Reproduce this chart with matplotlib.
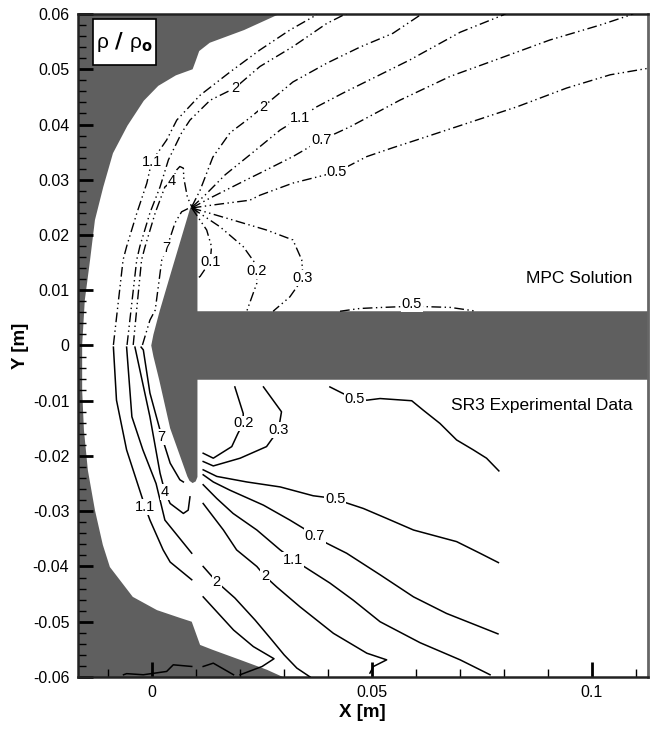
import matplotlib
matplotlib.use("Agg")
import matplotlib.pyplot as plt
from matplotlib.patches import Polygon, Rectangle
from matplotlib.ticker import MultipleLocator, FixedLocator

plt.rcParams['font.family'] = ['Liberation Sans', 'DejaVu Sans']

GRAY = '#5f5f5f'

# ---------------- geometry (m) ----------------
# outer boundary of the flow field (left of the bow shock is masked)
shock_x = [0.0290, 0.0210, 0.0132, 0.0108, 0.0100, 0.0093, 0.0055, 0.0015, -0.0018,
           -0.0055, -0.0088, -0.0110, -0.0129, -0.0140, -0.0152, -0.0158, -0.0158,
           -0.0154, -0.0145, -0.0129, -0.0111, -0.0095, -0.0043, 0.0012, 0.0064,
           0.0091, 0.0110, 0.0139, 0.0201, 0.0262, 0.0298]
shock_y = [0.0600, 0.0571, 0.0548, 0.0533, 0.0515, 0.0500, 0.0489, 0.0470, 0.0443,
           0.0398, 0.0348, 0.0287, 0.0227, 0.0155, 0.0082, 0.0001, -0.0081,
           -0.0153, -0.0226, -0.0298, -0.0361, -0.0401, -0.0455, -0.0479, -0.0493,
           -0.0500, -0.0542, -0.0551, -0.0569, -0.0587, -0.0600]

# blunted cone with sting
body_x = [0.0088, 0.0095, 0.0104, 0.0104, 0.1200, 0.1200, 0.0104, 0.0104, 0.0100,
          0.0093, 0.0086, 0.0081, 0.0042, 0.0017, 0.0004, -0.0001, 0.0004, 0.0018, 0.0045]
body_y = [0.0250, 0.0251, 0.0246, 0.0062, 0.0062, -0.0062, -0.0062, -0.0238, -0.0246,
          -0.0249, -0.0245, -0.0237, -0.0150, -0.0062, -0.0020, 0.0000, 0.0020, 0.0062, 0.0135]

# ---------------- MPC solution contours (upper half) ----------------
mpc_11a = [(-0.0087, 0.0001), (-0.0065, 0.0155), (-0.0057, 0.0179), (-0.0034, 0.0239),
           (-0.0011, 0.0294), (0.0000, 0.0333), (0.0034, 0.0372), (0.0057, 0.0408),
           (0.0110, 0.0453), (0.0178, 0.0495), (0.0246, 0.0535), (0.0314, 0.0571),
           (0.0367, 0.0595), (0.0375, 0.0601)]
mpc_2a = [(-0.0056, 0.0001), (-0.0034, 0.0155), (-0.0027, 0.0179), (-0.0004, 0.0240),
          (0.0019, 0.0287), (0.0038, 0.0336), (0.0068, 0.0385), (0.0087, 0.0408),
          (0.0133, 0.0444), (0.0189, 0.0466), (0.0246, 0.0505), (0.0321, 0.0541),
          (0.0398, 0.0583), (0.0443, 0.0601)]
mpc_4 = [(-0.0042, 0.0001), (-0.0023, 0.0155), (-0.0015, 0.0179), (0.0008, 0.0240),
         (0.0030, 0.0287), (0.0046, 0.0297), (0.0057, 0.0318), (0.0064, 0.0324),
         (0.0072, 0.0321), (0.0073, 0.0303), (0.0081, 0.0269), (0.0091, 0.0251)]
mpc_7 = [(-0.0021, 0.0001), (-0.0004, 0.0046), (0.0008, 0.0064), (0.0023, 0.0155),
         (0.0034, 0.0176), (0.0053, 0.0222), (0.0068, 0.0242), (0.0083, 0.0248),
         (0.0090, 0.0250)]
mpc_2b = [(0.0091, 0.0251), (0.0110, 0.0281), (0.0139, 0.0341), (0.0178, 0.0385),
          (0.0223, 0.0412), (0.0253, 0.0432), (0.0321, 0.0477), (0.0398, 0.0511),
          (0.0473, 0.0540), (0.0548, 0.0565), (0.0610, 0.0598), (0.0614, 0.0601)]
mpc_11b = [(0.0091, 0.0250), (0.0121, 0.0272), (0.0167, 0.0309), (0.0223, 0.0345),
           (0.0292, 0.0390), (0.0337, 0.0412), (0.0375, 0.0432), (0.0435, 0.0457),
           (0.0511, 0.0487), (0.0587, 0.0517), (0.0701, 0.0567), (0.0798, 0.0598),
           (0.0805, 0.0601)]
mpc_07 = [(0.0091, 0.0249), (0.0133, 0.0267), (0.0223, 0.0303), (0.0246, 0.0312),
          (0.0321, 0.0342), (0.0386, 0.0372), (0.0451, 0.0396), (0.0564, 0.0444),
          (0.0678, 0.0487), (0.0792, 0.0520), (0.0905, 0.0553), (0.1019, 0.0580),
          (0.1087, 0.0598), (0.1095, 0.0601)]
mpc_05 = [(0.0091, 0.0249), (0.0155, 0.0256), (0.0223, 0.0263), (0.0246, 0.0272),
          (0.0321, 0.0294), (0.0421, 0.0314), (0.0489, 0.0342), (0.0548, 0.0358),
          (0.0602, 0.0372), (0.0716, 0.0402), (0.0830, 0.0432), (0.0943, 0.0466),
          (0.1042, 0.0490), (0.1130, 0.0502)]
mpc_01 = [(0.0091, 0.0249), (0.0125, 0.0209), (0.0136, 0.0179), (0.0133, 0.0152),
          (0.0110, 0.0125), (0.0105, 0.0122)]
mpc_02 = [(0.0091, 0.0249), (0.0155, 0.0215), (0.0208, 0.0179), (0.0235, 0.0149),
          (0.0239, 0.0134), (0.0239, 0.0113), (0.0216, 0.0062)]
mpc_03 = [(0.0091, 0.0249), (0.0185, 0.0227), (0.0261, 0.0209), (0.0321, 0.0191),
          (0.0341, 0.0155), (0.0344, 0.0122), (0.0314, 0.0088), (0.0276, 0.0062)]
mpc_05s = [(0.0428, 0.0062), (0.0473, 0.0067), (0.0526, 0.0069), (0.0591, 0.0071),
           (0.0678, 0.0069), (0.0739, 0.0062)]

mpc_lines = [mpc_11a, mpc_2a, mpc_4, mpc_7, mpc_2b, mpc_11b, mpc_07, mpc_05,
             mpc_01, mpc_02, mpc_03, mpc_05s]
mpc_labels = [("1.1", 0.0000, 0.0333), ("2", 0.0189, 0.0466), ("4", 0.0046, 0.0297),
              ("7", 0.0034, 0.0176), ("2", 0.0253, 0.0432), ("1.1", 0.0337, 0.0412),
              ("0.7", 0.0386, 0.0372), ("0.5", 0.0421, 0.0314), ("0.1", 0.0133, 0.0152),
              ("0.2", 0.0239, 0.0134), ("0.3", 0.0344, 0.0122), ("0.5", 0.0591, 0.0075)]

# ---------------- SR3 experimental contours (lower half) ----------------
sr3_11a = [(-0.0087, -0.0003), (-0.0080, -0.0099), (-0.0057, -0.0189), (-0.0015, -0.0292),
           (-0.0004, -0.0316), (0.0026, -0.0370), (0.0042, -0.0392), (0.0091, -0.0424)]
sr3_11a2 = [(0.0117, -0.0455), (0.0186, -0.0515), (0.0231, -0.0545), (0.0278, -0.0567),
            (0.0251, -0.0581), (0.0201, -0.0596)]
sr3_2a = [(-0.0057, -0.0003), (-0.0045, -0.0129), (-0.0020, -0.0189), (0.0010, -0.0250),
          (0.0030, -0.0316), (0.0091, -0.0376)]
sr3_2a2 = [(0.0117, -0.0400), (0.0148, -0.0428), (0.0189, -0.0457), (0.0235, -0.0497),
           (0.0273, -0.0533), (0.0301, -0.0560), (0.0330, -0.0584), (0.0360, -0.0600)]
sr3_4 = [(-0.0038, -0.0003), (-0.0004, -0.0129), (0.0019, -0.0231), (0.0030, -0.0265),
         (0.0042, -0.0286), (0.0072, -0.0304), (0.0083, -0.0298), (0.0087, -0.0274)]
sr3_7 = [(-0.0024, -0.0003), (-0.0019, -0.0008), (-0.0004, -0.0086), (0.0023, -0.0165),
         (0.0042, -0.0213), (0.0064, -0.0243), (0.0072, -0.0247)]
sr3_02 = [(0.0189, -0.0075), (0.0208, -0.0123), (0.0208, -0.0141), (0.0196, -0.0159),
          (0.0182, -0.0183), (0.0140, -0.0204), (0.0117, -0.0195)]
sr3_03 = [(0.0254, -0.0075), (0.0295, -0.0120), (0.0288, -0.0153), (0.0261, -0.0183),
          (0.0201, -0.0204), (0.0140, -0.0218), (0.0117, -0.0210)]
sr3_05 = [(0.0117, -0.0225), (0.0148, -0.0237), (0.0216, -0.0247), (0.0292, -0.0256),
          (0.0367, -0.0272), (0.0417, -0.0277), (0.0443, -0.0285), (0.0481, -0.0295),
          (0.0534, -0.0313), (0.0595, -0.0334), (0.0693, -0.0355), (0.0746, -0.0376),
          (0.0788, -0.0393)]
sr3_07 = [(0.0117, -0.0234), (0.0140, -0.0247), (0.0178, -0.0262), (0.0254, -0.0289),
          (0.0314, -0.0316), (0.0345, -0.0331), (0.0371, -0.0345), (0.0398, -0.0358),
          (0.0443, -0.0376), (0.0519, -0.0415), (0.0595, -0.0455), (0.0670, -0.0485),
          (0.0746, -0.0509), (0.0787, -0.0522)]
sr3_11b = [(0.0117, -0.0252), (0.0148, -0.0277), (0.0185, -0.0304), (0.0239, -0.0334),
           (0.0292, -0.0370), (0.0322, -0.0388), (0.0352, -0.0403), (0.0405, -0.0430),
           (0.0458, -0.0461), (0.0519, -0.0500), (0.0610, -0.0538), (0.0701, -0.0569),
           (0.0769, -0.0596)]
sr3_2b = [(0.0117, -0.0286), (0.0140, -0.0310), (0.0163, -0.0334), (0.0193, -0.0370),
          (0.0239, -0.0400), (0.0258, -0.0418), (0.0284, -0.0437), (0.0337, -0.0473),
          (0.0413, -0.0521), (0.0489, -0.0557), (0.0534, -0.0569), (0.0504, -0.0581),
          (0.0496, -0.0593)]
sr3_05s = [(0.0405, -0.0075), (0.0435, -0.0087), (0.0462, -0.0096), (0.0489, -0.0099),
           (0.0519, -0.0096), (0.0591, -0.0100), (0.0617, -0.0117), (0.0655, -0.0141),
           (0.0693, -0.0171), (0.0731, -0.0189), (0.0761, -0.0204), (0.0789, -0.0227)]
sr3_edge1 = [(-0.0064, -0.0596), (-0.0057, -0.0594), (-0.0019, -0.0596), (0.0034, -0.0590),
             (0.0049, -0.0578), (0.0091, -0.0581)]
sr3_edge2 = [(0.0117, -0.0581), (0.0140, -0.0575), (0.0186, -0.0596)]

sr3_lines = [sr3_11a, sr3_11a2, sr3_2a, sr3_2a2, sr3_4, sr3_7, sr3_02, sr3_03, sr3_05,
             sr3_07, sr3_11b, sr3_2b, sr3_05s, sr3_edge1, sr3_edge2]
sr3_labels = [("1.1", -0.0015, -0.0292), ("2", 0.0148, -0.0428), ("4", 0.0030, -0.0265),
              ("7", 0.0023, -0.0165), ("0.2", 0.0208, -0.0141), ("0.3", 0.0288, -0.0153),
              ("0.5", 0.0417, -0.0277), ("0.7", 0.0371, -0.0345), ("1.1", 0.0322, -0.0388),
              ("2", 0.0258, -0.0418), ("0.5", 0.0462, -0.0096)]

# ---------------- figure ----------------
fig = plt.figure(figsize=(6.5, 7.34), dpi=100)
ax = fig.add_axes([0.1195, 0.0777, 0.877, 0.9032])

xl = (-0.01682, 0.11273)
ax.set_xlim(*xl)
ax.set_ylim(-0.06, 0.06)

# masked regions
free = list(zip(shock_x, shock_y)) + [(-0.05, -0.07), (-0.05, 0.07), (0.0290, 0.07)]
ax.add_patch(Polygon(free, closed=True, facecolor=GRAY, edgecolor='none', zorder=1))
ax.add_patch(Polygon(list(zip(body_x, body_y)), closed=True, facecolor=GRAY,
                     edgecolor='none', zorder=1))

dashdotdot = (0, (7, 2.5, 1, 2.5, 1, 2.5))
for pts in mpc_lines:
    xs, ys = zip(*pts)
    ax.plot(xs, ys, color='black', lw=1.0, linestyle=dashdotdot, zorder=3)
for pts in sr3_lines:
    xs, ys = zip(*pts)
    ax.plot(xs, ys, color='black', lw=1.1, zorder=3, solid_joinstyle='round')

lab_box = dict(facecolor='white', edgecolor='none', pad=0.6)
for txt, x, y in mpc_labels + sr3_labels:
    ax.text(x, y, txt, fontsize=10.5, ha='center', va='center', bbox=lab_box, zorder=4)

ax.text(0.1092, 0.0122, "MPC Solution", fontsize=12.5, ha='right', va='center', zorder=4)
ax.text(0.1092, -0.0108, "SR3 Experimental Data", fontsize=12.5, ha='right', va='center',
        zorder=4)

# variable legend box
ax.add_patch(Rectangle((0.0274, 0.9231), 0.1095, 0.0694, transform=ax.transAxes,
                       facecolor='white', edgecolor='black', lw=1.2, zorder=5))
ax.text(0.0274 + 0.1095 / 2, 0.9231 + 0.0694 / 2,
        r'$\mathregular{ρ\ \mathbf{/}\ ρ_{\mathbf{o}}}$',
        transform=ax.transAxes, fontsize=15, ha='center', va='center', zorder=6)

# axes styling
ax.xaxis.set_major_locator(FixedLocator([0.0, 0.05, 0.1]))
ax.xaxis.set_minor_locator(MultipleLocator(0.01))
ax.yaxis.set_major_locator(MultipleLocator(0.01))
ax.yaxis.set_minor_locator(MultipleLocator(0.002))
ax.set_xticklabels(["0", "0.05", "0.1"])
ylabs = [-0.06, -0.05, -0.04, -0.03, -0.02, -0.01, 0.0, 0.01, 0.02, 0.03, 0.04, 0.05, 0.06]
ax.set_yticks(ylabs)
ax.set_yticklabels(["0" if v == 0 else f"{v:.2f}" for v in ylabs])

ax.tick_params(which='major', direction='in', length=11, width=2, labelsize=11.5, pad=6,
               top=False, right=False)
ax.tick_params(which='minor', direction='in', length=6, width=1, top=False, right=False)

for s in ('left', 'bottom', 'top'):
    ax.spines[s].set_linewidth(1.8)
    ax.spines[s].set_color('#222222')
ax.spines['right'].set_linewidth(2.0)
ax.spines['right'].set_color('#666666')

ax.set_xlabel("X [m]", fontsize=13.5, fontweight='bold', labelpad=3)
ax.set_ylabel("Y [m]", fontsize=13.5, fontweight='bold', labelpad=3)

fig.savefig("out.png", dpi=100, facecolor='white')
